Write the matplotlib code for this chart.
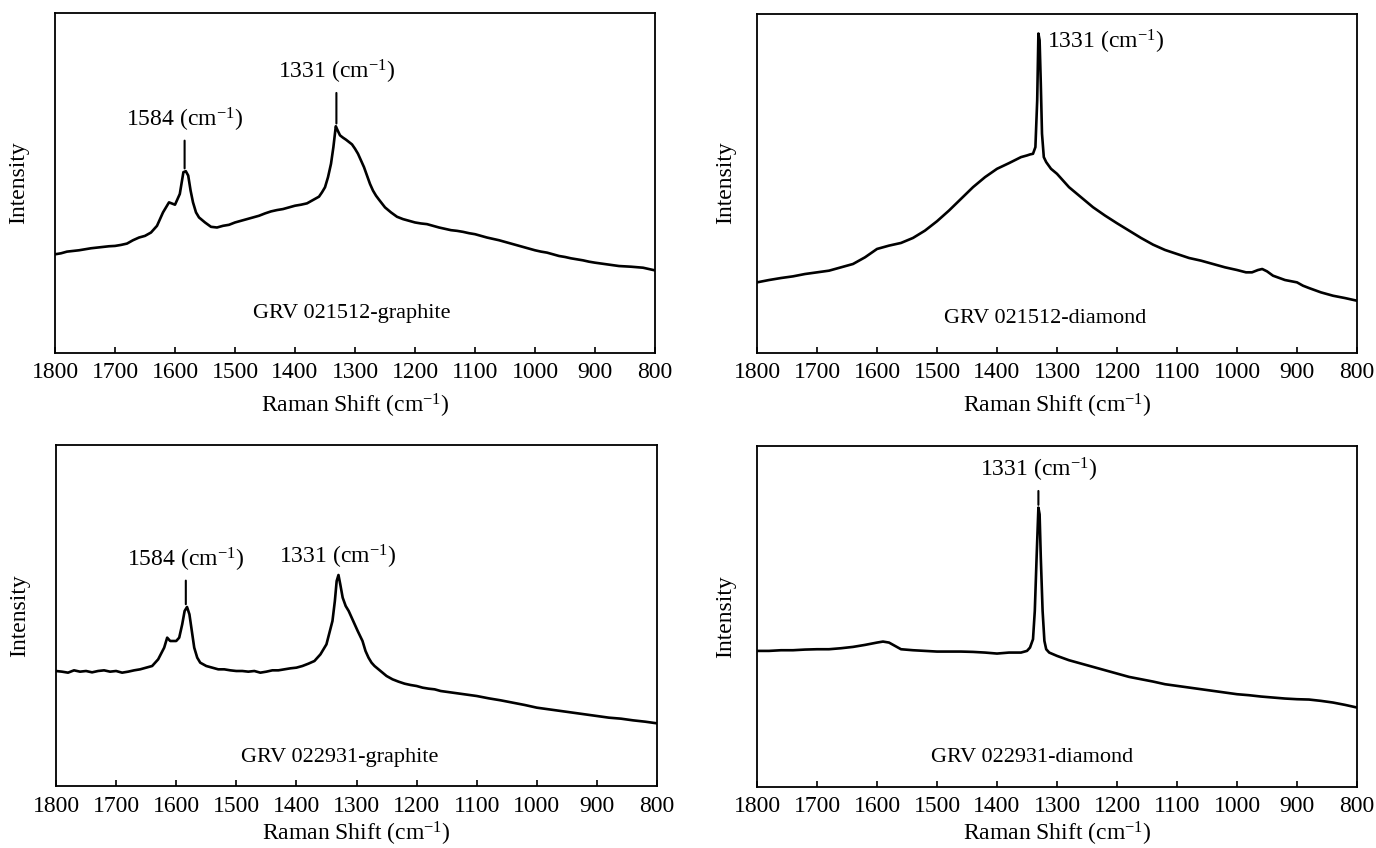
import matplotlib
matplotlib.use("Agg")
import matplotlib.pyplot as plt

plt.rcParams["font.family"] = ["Liberation Serif", "DejaVu Serif"]
plt.rcParams["mathtext.fontset"] = "custom"
plt.rcParams["mathtext.rm"] = "Liberation Serif"
plt.rcParams["mathtext.it"] = "Liberation Serif:italic"
plt.rcParams["axes.linewidth"] = 1.3

# ── Spectra (intensity in arbitrary units) ────────────────────────────────────
wn_021512_gr = [1800, 1790, 1780, 1770, 1760, 1750, 1740, 1730, 1720, 1710, 1700, 1690, 1680, 1670,
                1660, 1650, 1640, 1630, 1620, 1610, 1600, 1592, 1586, 1582, 1578, 1574, 1570, 1565,
                1560, 1550, 1540, 1530, 1520, 1510, 1500, 1490, 1480, 1470, 1460, 1450, 1440, 1430,
                1420, 1410, 1400, 1390, 1380, 1370, 1360, 1355, 1350, 1345, 1340, 1336, 1332, 1329,
                1325, 1320, 1315, 1310, 1305, 1300, 1295, 1290, 1285, 1280, 1275, 1270, 1265, 1260,
                1250, 1240, 1230, 1220, 1210, 1200, 1190, 1180, 1170, 1160, 1150, 1140, 1130, 1120,
                1110, 1100, 1090, 1080, 1070, 1060, 1050, 1040, 1030, 1020, 1010, 1000, 990, 980,
                970, 960, 950, 940, 930, 920, 910, 900, 880, 860, 840, 820, 800]
int_021512_gr = [293, 296, 301, 303, 305, 308, 311, 313, 315, 317, 318, 321, 325, 335,
                 343, 348, 358, 378, 418, 448, 441, 473, 538, 541, 528, 483, 448, 418,
                 403, 388, 375, 373, 378, 381, 388, 393, 398, 403, 408, 415, 421, 425,
                 428, 433, 438, 441, 445, 455, 465, 478, 493, 523, 563, 613, 675, 663,
                 648, 641, 635, 628, 621, 608, 593, 573, 553, 528, 503, 483, 468, 456,
                 433, 418, 405, 398, 393, 388, 385, 383, 378, 373, 369, 365, 363, 360,
                 356, 353, 348, 343, 339, 335, 330, 325, 320, 315, 310, 305, 301, 298,
                 293, 288, 285, 281, 278, 275, 271, 268, 263, 258, 256, 253, 245]

wn_021512_di = [1800, 1780, 1760, 1740, 1720, 1700, 1680, 1660, 1640, 1620, 1600, 1580, 1560, 1540,
                1520, 1500, 1480, 1460, 1440, 1420, 1400, 1380, 1360, 1350, 1345, 1340, 1336, 1333,
                1331, 1329, 1327, 1325, 1322, 1318, 1310, 1300, 1290, 1280, 1260, 1240, 1220, 1200,
                1180, 1160, 1140, 1120, 1100, 1080, 1060, 1040, 1020, 1000, 985, 975, 965, 958,
                950, 940, 920, 900, 890, 880, 860, 840, 820, 800]
int_021512_di = [210, 217, 223, 228, 235, 240, 245, 255, 265, 285, 310, 320, 328, 343,
                 365, 393, 425, 460, 495, 525, 550, 567, 585, 590, 593, 595, 615, 755,
                 955, 935, 805, 655, 585, 570, 550, 535, 515, 495, 465, 435, 410, 387,
                 365, 343, 323, 307, 295, 283, 275, 265, 255, 247, 240, 240, 247, 250,
                 243, 230, 217, 210, 200, 193, 180, 170, 163, 155]

wn_022931_gr = [1800, 1790, 1780, 1770, 1760, 1750, 1740, 1730, 1720, 1710, 1700, 1690, 1680, 1670,
                1660, 1650, 1640, 1630, 1620, 1615, 1610, 1600, 1595, 1590, 1586, 1582, 1578, 1574,
                1570, 1565, 1560, 1550, 1540, 1530, 1520, 1510, 1500, 1490, 1480, 1470, 1460, 1450,
                1440, 1430, 1420, 1410, 1400, 1390, 1380, 1370, 1360, 1350, 1345, 1340, 1336, 1333,
                1330, 1327, 1323, 1318, 1313, 1308, 1303, 1298, 1290, 1285, 1280, 1275, 1270, 1260,
                1250, 1240, 1230, 1220, 1210, 1200, 1190, 1180, 1170, 1160, 1140, 1120, 1100, 1080,
                1060, 1040, 1020, 1000, 980, 960, 940, 920, 900, 880, 860, 840, 820, 800]
int_022931_gr = [345, 343, 340, 347, 343, 345, 341, 345, 347, 343, 345, 340, 343, 347,
                 350, 355, 360, 380, 415, 445, 435, 435, 445, 485, 525, 537, 515, 465,
                 415, 385, 370, 360, 355, 350, 350, 347, 345, 345, 343, 345, 340, 343,
                 347, 347, 350, 353, 355, 360, 367, 375, 395, 425, 460, 495, 555, 615,
                 633, 605, 565, 540, 525, 505, 485, 465, 435, 405, 385, 370, 360, 345,
                 330, 320, 313, 307, 303, 300, 295, 292, 290, 285, 280, 275, 270, 263,
                 257, 250, 243, 235, 230, 225, 220, 215, 210, 205, 202, 197, 193, 188]

wn_022931_di = [1800, 1780, 1760, 1740, 1720, 1700, 1680, 1660, 1640, 1620, 1600, 1590, 1580, 1570,
                1560, 1540, 1520, 1500, 1480, 1460, 1440, 1420, 1400, 1380, 1360, 1350, 1345, 1340,
                1337, 1334, 1331, 1329, 1327, 1324, 1321, 1318, 1313, 1300, 1280, 1260, 1240, 1220,
                1200, 1180, 1160, 1140, 1120, 1100, 1080, 1060, 1040, 1020, 1000, 980, 960, 940,
                920, 900, 880, 860, 840, 820, 800]
int_022931_di = [407, 407, 409, 409, 411, 412, 412, 415, 419, 425, 432, 435, 432, 422,
                 412, 409, 407, 405, 405, 405, 404, 402, 399, 402, 402, 407, 417, 442,
                 527, 687, 837, 817, 687, 527, 437, 412, 402, 392, 379, 369, 359, 349,
                 339, 329, 322, 315, 307, 302, 297, 292, 287, 282, 277, 274, 270, 267,
                 264, 262, 261, 257, 252, 245, 237]

sample_names = ["GRV 021512-graphite", "GRV 021512-diamond",
                "GRV 022931-graphite", "GRV 022931-diamond"]
ticks = [1800, 1700, 1600, 1500, 1400, 1300, 1200, 1100, 1000, 900, 800]

FS = 17
W, H = 1376, 848
fig = plt.figure(figsize=(W / 100, H / 100), dpi=100)


def add_axes(x0, y0, x1, y1):
    # pixel box (left, top, right, bottom) -> figure fraction
    return fig.add_axes([x0 / W, 1 - y1 / H, (x1 - x0) / W, (y1 - y0) / H])


def style(ax, ytop, name, name_xy, ylab_x, xpad=6):
    ax.set_xlim(1800, 800)
    ax.set_ylim(0, ytop)
    ax.set_xticks(ticks)
    ax.set_yticks([])
    ax.tick_params(axis="x", direction="in", length=4, width=1.2, labelsize=FS, pad=7)
    ax.set_xlabel("Raman Shift (cm$^{-1}$)", fontsize=FS, labelpad=xpad)
    ax.set_ylabel("Intensity", fontsize=FS)
    ax.yaxis.set_label_coords(ylab_x, 0.5)
    ax.text(name_xy[0], name_xy[1], name, transform=ax.transAxes,
            ha="center", va="center", fontsize=16)


def peak_label(ax, x, y, label, dy, line=True):
    arrow = dict(arrowstyle="-", lw=1.5, color="black", shrinkA=3, shrinkB=2) if line else None
    ax.annotate(label, xy=(x, y), xytext=(0, dy), textcoords="offset points",
                ha="center", va="bottom", fontsize=FS, arrowprops=arrow)


lbl = "1331 (cm$^{-1}$)"
lbl2 = "1584 (cm$^{-1}$)"
lw = 1.9

# Top-left: GRV 021512 graphite
ax = add_axes(55, 13, 655, 352.5)
ax.plot(wn_021512_gr, int_021512_gr, color="black", lw=lw)
style(ax, 1013, sample_names[0], (0.495, 0.115), -0.043)
peak_label(ax, 1584, max(int_021512_gr[20:28]), lbl2, 27)
peak_label(ax, 1331, max(int_021512_gr), lbl, 29)

# Top-right: GRV 021512 diamond
ax = add_axes(757, 13.5, 1357, 352.5)
ax.plot(wn_021512_di, int_021512_di, color="black", lw=lw)
style(ax, 1015, sample_names[1], (0.48, 0.1), -0.035)
ax.annotate(lbl, xy=(1331, max(int_021512_di)), xytext=(6, -6), textcoords="offset points",
            ha="left", va="center", fontsize=FS)

# Bottom-left: GRV 022931 graphite
ax = add_axes(56, 445, 657, 786)
ax.plot(wn_022931_gr, int_022931_gr, color="black", lw=lw)
style(ax, 1023, sample_names[2], (0.472, 0.085), -0.043, xpad=2)
peak_label(ax, 1584, max(int_022931_gr[20:32]), lbl2, 24)
peak_label(ax, 1331, max(int_022931_gr), lbl, 3, line=False)

# Bottom-right: GRV 022931 diamond
ax = add_axes(757, 446, 1357, 786.5)
ax.plot(wn_022931_di, int_022931_di, color="black", lw=lw)
style(ax, 1022, sample_names[3], (0.458, 0.085), -0.035, xpad=2)
peak_label(ax, 1331, max(int_022931_di), lbl, 17)

fig.savefig("out.png", dpi=100)
